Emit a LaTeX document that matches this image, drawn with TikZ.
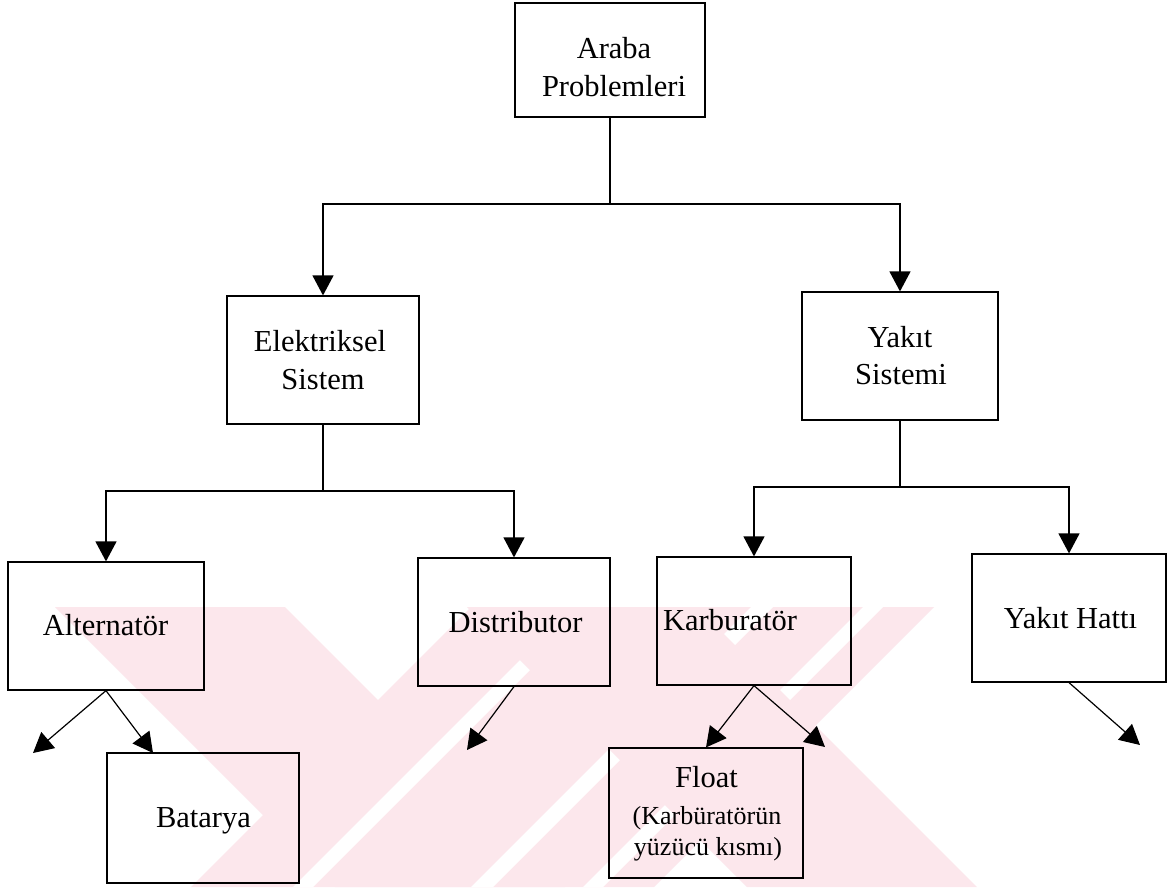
\documentclass[tikz,border=0pt]{standalone}
\usepackage{fontspec}
\setmainfont{Liberation Serif}
\usetikzlibrary{arrows.meta}
\definecolor{wmpink}{RGB}{252,231,236}
\tikzset{
  box/.style={draw, rectangle, line width=1.2pt, inner sep=0pt,
    minimum width=194pt, minimum height=128pt},
  txt/.style={font=\fontsize{30.5}{38}\selectfont, inner sep=0pt, anchor=base},
  smalltxt/.style={font=\fontsize{26}{31}\selectfont, inner sep=0pt, anchor=base},
  link/.style={line width=1.2pt},
  arrowlink/.style={line width=1.2pt, -{Triangle[length=20pt, width=21pt]}},
}
\begin{document}
\begin{tikzpicture}[x=1pt, y=-1pt]
\useasboundingbox (0,0) rectangle (1171,887);
\fill[white] (0,0) rectangle (1171,887);

% faint background mark in the lower part
\begin{scope}
  \clip (0,607) rectangle (1171,887);
  \fill[wmpink] (55,607) -- (285,607) -- (565,887) -- (335,887) -- cycle;
  \fill[wmpink] (471,607) -- (934,607) -- (654,887) -- (191,887) -- cycle;
  \fill[white] (573,607) -- (593,607) -- (313,887) -- (293,887) -- cycle;
  \fill[white] (751,607) -- (773,607) -- (493,887) -- (471,887) -- cycle;
  \fill[white] (863,607) -- (883,607) -- (603,887) -- (583,887) -- cycle;
  \fill[wmpink] (467,607) -- (697,607) -- (977,887) -- (747,887) -- cycle;
\end{scope}

% boxes
\node[box, minimum width=190pt, minimum height=114pt] (top) at (610,60) {};
\node[box, minimum width=192pt] (elek) at (323,360) {};
\node[box, minimum width=196pt] (yakit) at (900,356) {};
\node[box, minimum width=196pt] (alt) at (106,626) {};
\node[box, minimum width=192pt, minimum height=130pt] (bat) at (203,818) {};
\node[box, minimum width=192pt] (dist) at (514,622) {};
\node[box] (karb) at (754,621) {};
\node[box, minimum height=130pt] (float) at (706,813) {};
\node[box] (hatt) at (1069,618) {};

% labels
\node[txt] (topA) at (614,58) {Araba};
\node[txt] (topB) at (614,96) {Problemleri};
\node[txt] (elekA) at (320,351) {Elektriksel};
\node[txt] (elekB) at (323,389) {Sistem};
\node[txt] (yakitA) at (900,347) {Yakıt};
\node[txt] (yakitB) at (901,384) {Sistemi};
\node[txt] (altT) at (105.5,635) {Alternatör};
\node[txt] (batT) at (203.5,827) {Batarya};
\node[txt] (distT) at (515.5,632) {Distributor};
\node[txt] (karbT) at (730,630) {Karburatör};
\node[txt] (hattT) at (1070.5,628) {Yakıt Hattı};
\node[txt] (floatA) at (706.5,787) {Float};
\node[smalltxt] (floatB) at (707,824) {(Karbüratörün};
\node[smalltxt] (floatC) at (708,855) {yüzücü kısmı)};

% branch points and free arrow ends
\coordinate (j1) at (610,204);
\coordinate (j2) at (323,491);
\coordinate (j3) at (900,487);
\coordinate (altL) at (33,753);
\coordinate (batIn) at (153,753);
\coordinate (distL) at (467,750);
\coordinate (karbR) at (825,747);
\coordinate (hattR) at (1140,745);

% connectors
\draw[link] (top.south) -- (j1);
\draw[arrowlink] (j1) -| (elek.north);
\draw[arrowlink] (j1) -| (yakit.north);
\draw[link] (elek.south) -- (j2);
\draw[arrowlink] (j2) -| (alt.north);
\draw[arrowlink] (j2) -| (dist.north);
\draw[link] (yakit.south) -- (j3);
\draw[arrowlink] (j3) -| (karb.north);
\draw[arrowlink] (j3) -| (hatt.north);
\draw[arrowlink] (alt.south) -- (altL);
\draw[arrowlink] (alt.south) -- (batIn);
\draw[arrowlink] (dist.south) -- (distL);
\draw[arrowlink] (karb.south) -- (float.north);
\draw[arrowlink] (karb.south) -- (karbR);
\draw[arrowlink] (hatt.south) -- (hattR);
\end{tikzpicture}
\end{document}
